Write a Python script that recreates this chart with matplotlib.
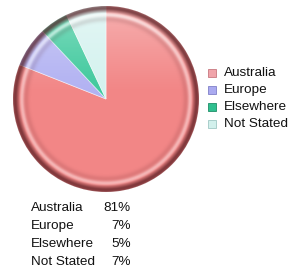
import numpy as np
import matplotlib.pyplot as plt
from matplotlib.patches import Circle, Rectangle

plt.rcParams['font.family'] = ['Liberation Sans', 'DejaVu Sans']

labels = ['Australia', 'Europe', 'Elsewhere', 'Not Stated']
shares = [81, 7, 5, 7]
pct_text = ['81%', '7%', '5%', '7%']
fill_colors = ['#F28686', '#B2B2F2', '#3FC99D', '#D4F2EF']
key_colors = ['#F0A4AA', '#AAAAF0', '#2FBF8F', '#D2F0EC']
key_edges = ['#C87880', '#8080C8', '#1F8F68', '#A0C8C4']

W, H = 293, 270
fig = plt.figure(figsize=(W / 100, H / 100), dpi=100)

# pie axes placed in pixels
cx, cy, rad = 106, 99, 93
ax = fig.add_axes([(cx - rad) / W, (H - cy - rad) / H, 2 * rad / W, 2 * rad / H])
wedges, _ = ax.pie(shares, colors=fill_colors, startangle=90, counterclock=False,
                   radius=1, wedgeprops=dict(linewidth=0.6, edgecolor=(1, 1, 1, 0.5)))
ax.set_aspect('auto')
ax.axis('off')

# shading: lighter at top, dark bevel ring at rim
n = 500
g = np.linspace(-1, 1, n)
X, Y = np.meshgrid(g, g[::-1])
R = np.sqrt(X ** 2 + Y ** 2)
white = 0.36 * np.clip((Y - 0.05) / 0.95, 0, 1) ** 1.2
white += 0.42 * np.exp(-((R - 0.905) / 0.022) ** 2)
black = 0.68 * np.clip((R - 0.925) / 0.045, 0, 1) ** 0.9
black -= 0.15 * np.clip((R - 0.985) / 0.015, 0, 1)
black += 0.12 * np.exp(-((R - 0.86) / 0.03) ** 2)
white_img = np.zeros((n, n, 4))
white_img[..., :3] = 1
white_img[..., 3] = np.clip(white, 0, 1)
black_img = np.zeros((n, n, 4))
black_img[..., :3] = [0.30, 0.08, 0.10]
black_img[..., 3] = np.clip(black, 0, 1)
for img in (white_img, black_img):
    im = ax.imshow(img, extent=(-1, 1, -1, 1), zorder=3, interpolation='bilinear')
    im.set_clip_path(Circle((0, 0), 1.0, transform=ax.transData))
ax.set_xlim(-1, 1)
ax.set_ylim(-1, 1)

# legend on the right
for i, lab in enumerate(labels):
    y = 73 + 17 * i
    fig.patches.append(Rectangle((208 / W, (H - y - 4) / H), 8 / W, 8 / H,
                                 transform=fig.transFigure, facecolor=key_colors[i],
                                 edgecolor=key_edges[i], linewidth=0.6))
    fig.text(224 / W, (H - y) / H, lab, fontsize=9.7, va='center', ha='left', color='#111111')

# summary table below
for i, lab in enumerate(labels):
    y = 208 + 18 * i
    fig.text(31 / W, (H - y) / H, lab, fontsize=9.7, va='center', ha='left', color='#111111')
    fig.text(131 / W, (H - y) / H, pct_text[i], fontsize=9.7, va='center', ha='right', color='#111111')

fig.savefig('out.png', dpi=100)
